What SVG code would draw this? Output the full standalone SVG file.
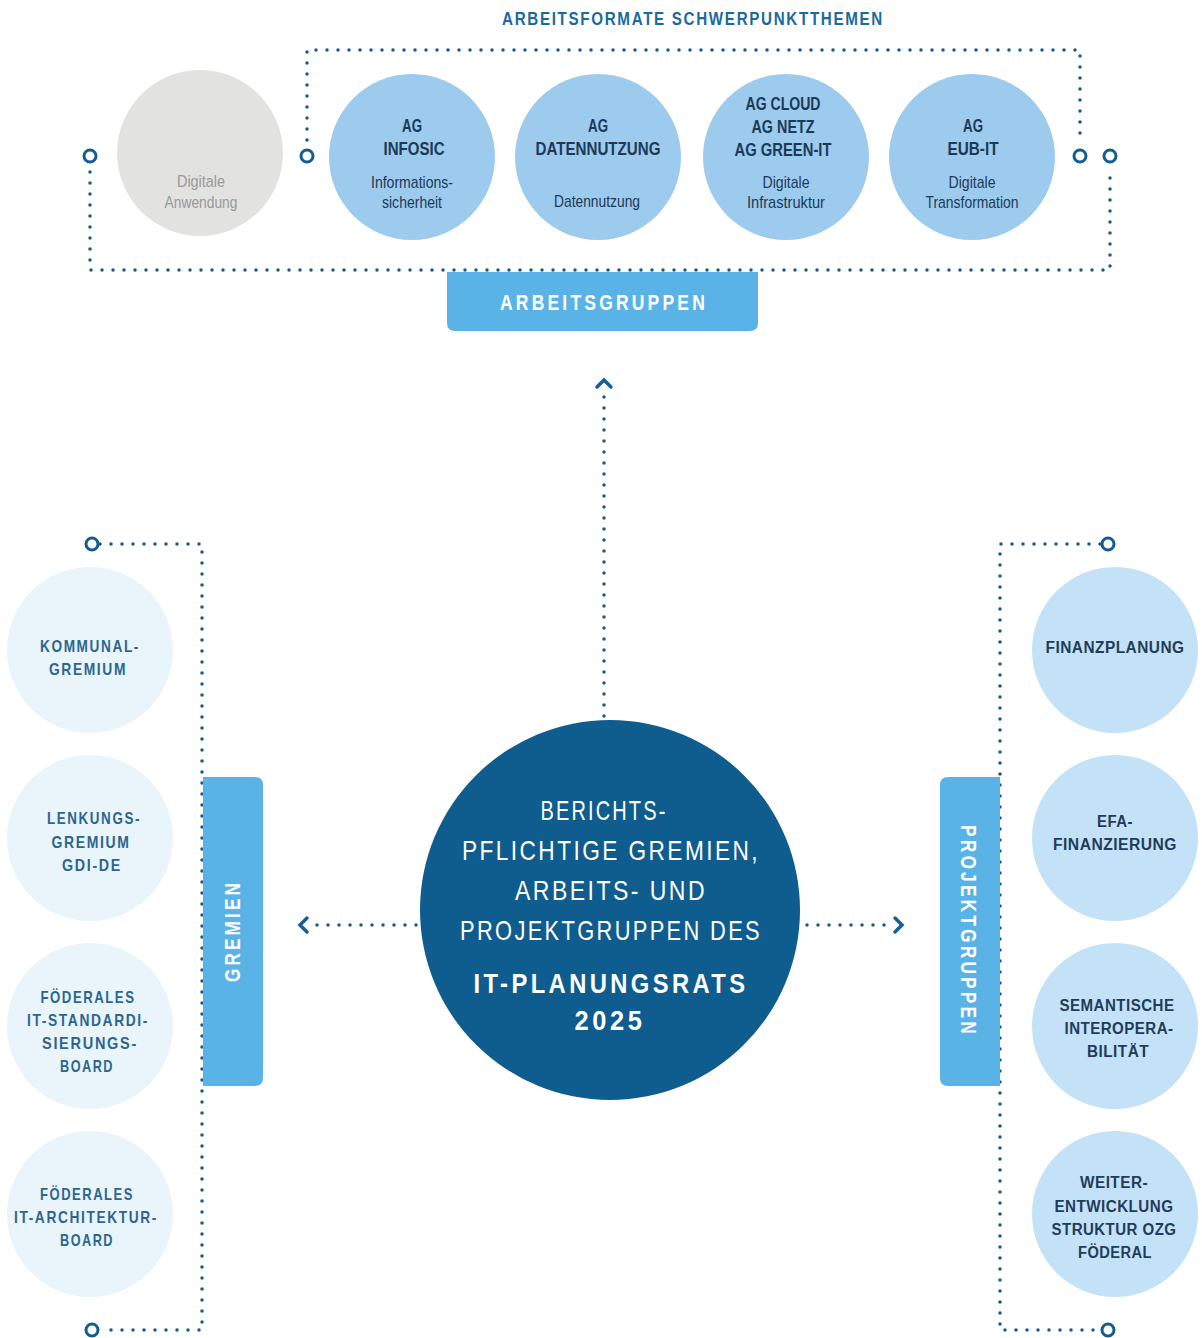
<svg xmlns="http://www.w3.org/2000/svg" width="1202" height="1338" viewBox="0 0 1202 1338">
<style>
text{font-family:"Liberation Sans","DejaVu Sans",sans-serif;text-anchor:middle}
.hdr{font-size:18px;font-weight:bold;fill:#1a6a9e;letter-spacing:2px}
.tag{font-size:22px;font-weight:bold;fill:#ffffff;letter-spacing:4px}
.ag{font-size:19px;font-weight:bold;fill:#1c3a57}
.agr{font-size:17px;fill:#1c3a57}
.gr{font-size:17px;fill:#9a9a98}
.lt{font-size:17px;font-weight:bold;fill:#2c6690;letter-spacing:2px}
.rt{font-size:16px;font-weight:bold;fill:#1f3c5a;letter-spacing:0.5px}
.ct{font-size:28px;fill:#ffffff;letter-spacing:3px}
.cb{font-size:28px;font-weight:bold;fill:#ffffff;letter-spacing:4px}
.dot{fill:none;stroke:#1b5a86;stroke-width:3.5;stroke-linecap:round;stroke-dasharray:0 11}
.ring{fill:#ffffff;stroke:#135d90;stroke-width:3}
.chev{fill:none;stroke:#16609a;stroke-width:3.5;stroke-linecap:round;stroke-linejoin:miter}
.box{fill:#5ab3e6}
.cA{fill:#9ccbee}
.cR{fill:#c4e2f7}
.cL{fill:#eaf4fb}
.cG{fill:#e2e2e0}
</style>
<rect width="1202" height="1338" fill="#ffffff"/>

<g id="connectors">
<path class="dot" d="M307,140 L307,50 L1080,50 L1080,140"/>
<path class="dot" d="M90,172 L90,270 L1110,270 L1110,172"/>
<circle class="ring" cx="307" cy="156" r="6"/>
<circle class="ring" cx="1080" cy="156" r="6"/>
<circle class="ring" cx="90" cy="156" r="6"/>
<circle class="ring" cx="1110" cy="156" r="6"/>
<path class="dot" d="M100,544 L202,544 L202,1330 L100,1330"/>
<circle class="ring" cx="92" cy="544" r="6"/>
<circle class="ring" cx="92" cy="1330" r="6"/>
<path class="dot" d="M1100,544 L1000,544 L1000,1330 L1100,1330"/>
<circle class="ring" cx="1108" cy="544" r="6"/>
<circle class="ring" cx="1108" cy="1330" r="6"/>
<path class="dot" d="M604,716 L604,392"/>
<polyline class="chev" points="597,387 604,380 611,387"/>
<path class="dot" d="M416,925 L310,925"/>
<polyline class="chev" points="307,918 300,925 307,932"/>
<path class="dot" d="M807,925 L890,925"/>
<polyline class="chev" points="895,918 902,925 895,932"/>
</g>

<g id="header">
<text class="hdr" x="693" y="25" textLength="382" lengthAdjust="spacingAndGlyphs">ARBEITSFORMATE SCHWERPUNKTTHEMEN</text>
</g>

<g id="ag-digitale-anwendung">
<circle class="cG" cx="200" cy="153" r="83"/>
<text class="gr" x="201" y="187" textLength="48" lengthAdjust="spacingAndGlyphs">Digitale</text>
<text class="gr" x="201" y="208" textLength="73" lengthAdjust="spacingAndGlyphs">Anwendung</text>
</g>
<g id="ag-infosic">
<circle class="cA" cx="412" cy="157" r="83"/>
<text class="ag" x="412" y="132" textLength="20" lengthAdjust="spacingAndGlyphs">AG</text>
<text class="ag" x="414" y="155" textLength="61" lengthAdjust="spacingAndGlyphs">INFOSIC</text>
<text class="agr" x="412" y="188" textLength="82" lengthAdjust="spacingAndGlyphs">Informations-</text>
<text class="agr" x="412" y="208" textLength="60" lengthAdjust="spacingAndGlyphs">sicherheit</text>
</g>
<g id="ag-datennutzung">
<circle class="cA" cx="598" cy="157" r="83"/>
<text class="ag" x="598" y="132" textLength="20" lengthAdjust="spacingAndGlyphs">AG</text>
<text class="ag" x="598" y="155" textLength="125" lengthAdjust="spacingAndGlyphs">DATENNUTZUNG</text>
<text class="agr" x="597" y="207" textLength="86" lengthAdjust="spacingAndGlyphs">Datennutzung</text>
</g>
<g id="ag-cloud-netz-green">
<circle class="cA" cx="786" cy="157" r="83"/>
<text class="ag" x="783" y="110" textLength="75" lengthAdjust="spacingAndGlyphs">AG CLOUD</text>
<text class="ag" x="783" y="133" textLength="63" lengthAdjust="spacingAndGlyphs">AG NETZ</text>
<text class="ag" x="783" y="156" textLength="97" lengthAdjust="spacingAndGlyphs">AG GREEN-IT</text>
<text class="agr" x="786" y="188" textLength="47" lengthAdjust="spacingAndGlyphs">Digitale</text>
<text class="agr" x="786" y="208" textLength="78" lengthAdjust="spacingAndGlyphs">Infrastruktur</text>
</g>
<g id="ag-eub-it">
<circle class="cA" cx="972" cy="157" r="83"/>
<text class="ag" x="973" y="132" textLength="20" lengthAdjust="spacingAndGlyphs">AG</text>
<text class="ag" x="973" y="155" textLength="51" lengthAdjust="spacingAndGlyphs">EUB-IT</text>
<text class="agr" x="972" y="188" textLength="47" lengthAdjust="spacingAndGlyphs">Digitale</text>
<text class="agr" x="972" y="208" textLength="93" lengthAdjust="spacingAndGlyphs">Transformation</text>
</g>

<g id="arbeitsgruppen">
<path class="box" d="M447,272 H758 V323 Q758,331 750,331 H455 Q447,331 447,323 Z"/>
<text class="tag" x="604" y="310" textLength="208" lengthAdjust="spacingAndGlyphs">ARBEITSGRUPPEN</text>
</g>

<g id="gremien">
<path class="box" d="M203,777 H255 Q263,777 263,785 V1078 Q263,1086 255,1086 H203 Z"/>
<text class="tag" transform="translate(240,931) rotate(-90)" x="0" y="0" font-size="20" textLength="102" lengthAdjust="spacingAndGlyphs">GREMIEN</text>
</g>

<g id="projektgruppen">
<path class="box" d="M1000,777 H948 Q940,777 940,785 V1078 Q940,1086 948,1086 H1000 Z"/>
<text class="tag" transform="translate(961,931) rotate(90)" x="0" y="0" font-size="20" textLength="212" lengthAdjust="spacingAndGlyphs">PROJEKTGRUPPEN</text>
</g>

<g id="center">
<circle cx="610" cy="910" r="190" fill="#0f5c8e"/>
<text class="ct" x="604" y="820" textLength="127" lengthAdjust="spacingAndGlyphs">BERICHTS-</text>
<text class="ct" x="611" y="860" textLength="298" lengthAdjust="spacingAndGlyphs">PFLICHTIGE GREMIEN,</text>
<text class="ct" x="611" y="900" textLength="192" lengthAdjust="spacingAndGlyphs">ARBEITS- UND</text>
<text class="ct" x="611" y="940" textLength="302" lengthAdjust="spacingAndGlyphs">PROJEKTGRUPPEN DES</text>
<text class="cb" x="611" y="993" textLength="275" lengthAdjust="spacingAndGlyphs">IT-PLANUNGSRATS</text>
<text class="cb" x="610" y="1030" textLength="71" lengthAdjust="spacingAndGlyphs">2025</text>
</g>

<g id="kommunalgremium">
<circle class="cL" cx="90" cy="650" r="83"/>
<text class="lt" x="90" y="652" textLength="100" lengthAdjust="spacingAndGlyphs">KOMMUNAL-</text>
<text class="lt" x="88" y="675" textLength="78" lengthAdjust="spacingAndGlyphs">GREMIUM</text>
</g>
<g id="lenkungsgremium">
<circle class="cL" cx="90" cy="838" r="83"/>
<text class="lt" x="94" y="824" textLength="94" lengthAdjust="spacingAndGlyphs">LENKUNGS-</text>
<text class="lt" x="91" y="848" textLength="79" lengthAdjust="spacingAndGlyphs">GREMIUM</text>
<text class="lt" x="92" y="871" textLength="60" lengthAdjust="spacingAndGlyphs">GDI-DE</text>
</g>
<g id="standardisierungsboard">
<circle class="cL" cx="90" cy="1026" r="83"/>
<text class="lt" x="88" y="1003" textLength="95" lengthAdjust="spacingAndGlyphs">FÖDERALES</text>
<text class="lt" x="88" y="1026" textLength="122" lengthAdjust="spacingAndGlyphs">IT-STANDARDI-</text>
<text class="lt" x="90" y="1049" textLength="96" lengthAdjust="spacingAndGlyphs">SIERUNGS-</text>
<text class="lt" x="87" y="1072" textLength="54" lengthAdjust="spacingAndGlyphs">BOARD</text>
</g>
<g id="architekturboard">
<circle class="cL" cx="90" cy="1214" r="83"/>
<text class="lt" x="87" y="1200" textLength="94" lengthAdjust="spacingAndGlyphs">FÖDERALES</text>
<text class="lt" x="86" y="1223" textLength="144" lengthAdjust="spacingAndGlyphs">IT-ARCHITEKTUR-</text>
<text class="lt" x="87" y="1246" textLength="54" lengthAdjust="spacingAndGlyphs">BOARD</text>
</g>

<g id="finanzplanung">
<circle class="cR" cx="1115" cy="650" r="83"/>
<text class="rt" x="1115" y="653" textLength="139" lengthAdjust="spacingAndGlyphs">FINANZPLANUNG</text>
</g>
<g id="efa-finanzierung">
<circle class="cR" cx="1115" cy="838" r="83"/>
<text class="rt" x="1115" y="827" textLength="36" lengthAdjust="spacingAndGlyphs">EFA-</text>
<text class="rt" x="1115" y="850" textLength="124" lengthAdjust="spacingAndGlyphs">FINANZIERUNG</text>
</g>
<g id="semantische-interoperabilitaet">
<circle class="cR" cx="1115" cy="1026" r="83"/>
<text class="rt" x="1117" y="1011" textLength="115" lengthAdjust="spacingAndGlyphs">SEMANTISCHE</text>
<text class="rt" x="1119" y="1034" textLength="109" lengthAdjust="spacingAndGlyphs">INTEROPERA-</text>
<text class="rt" x="1118" y="1057" textLength="62" lengthAdjust="spacingAndGlyphs">BILITÄT</text>
</g>
<g id="weiterentwicklung-ozg">
<circle class="cR" cx="1115" cy="1214" r="83"/>
<text class="rt" x="1114" y="1188" textLength="68" lengthAdjust="spacingAndGlyphs">WEITER-</text>
<text class="rt" x="1114" y="1212" textLength="119" lengthAdjust="spacingAndGlyphs">ENTWICKLUNG</text>
<text class="rt" x="1114" y="1235" textLength="125" lengthAdjust="spacingAndGlyphs">STRUKTUR OZG</text>
<text class="rt" x="1115" y="1258" textLength="74" lengthAdjust="spacingAndGlyphs">FÖDERAL</text>
</g>
</svg>
